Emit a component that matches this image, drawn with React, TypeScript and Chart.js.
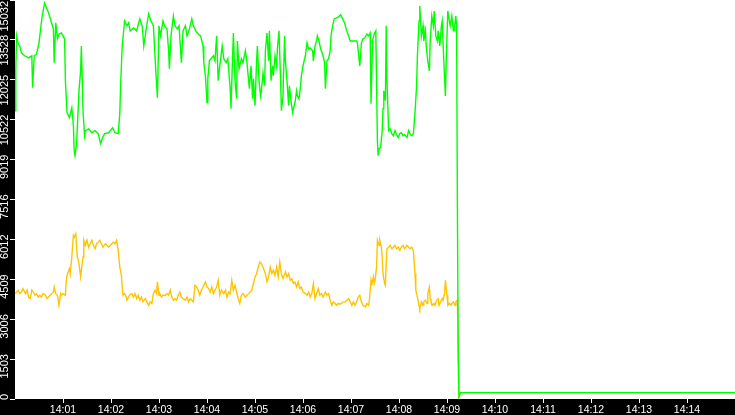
import { useEffect, useRef } from "react"
import { Chart, registerables, type ChartConfiguration } from "chart.js"

Chart.register(...registerables)

// seconds after 14:00:00 -> value
const greenSeries: [number, number][] = [
  [0, 10860], [1, 12360], [2, 13680], [4, 13380], [6, 13300], [8, 13040], [12, 12930], [17, 12850],
  [21, 12930], [22, 11730], [24, 12930], [27, 13000], [30, 13420], [32, 13940], [34, 14430], [37, 14920],
  [40, 14690], [42, 14540], [45, 14240], [48, 13940], [49, 12670], [51, 14170], [53, 13570], [55, 13750],
  [58, 13790], [62, 13570], [63, 11990], [65, 10790], [68, 10600], [71, 10970], [73, 10300], [74, 9360],
  [75, 9170], [77, 9620], [80, 11610], [82, 12360], [83, 13300], [85, 10860], [87, 9920], [88, 10110],
  [92, 10180], [96, 10030], [100, 10110], [104, 10000], [107, 9620], [109, 9810], [112, 10000], [117, 10030],
  [122, 10220], [125, 10030], [129, 10000], [131, 10750], [132, 11800], [134, 13300], [137, 14240], [140, 14060],
  [142, 14170], [144, 13870], [148, 13980], [152, 13870], [156, 14320], [159, 14060], [161, 13300], [164, 13940],
  [167, 14510], [170, 14240], [173, 14060], [176, 12360], [178, 11350], [180, 14060], [182, 13680], [185, 14240],
  [187, 14060], [190, 13940], [192, 13120], [193, 12440], [195, 13680], [198, 14430], [200, 14060], [203, 13940],
  [205, 14060], [208, 12670], [210, 13870], [213, 14060], [215, 13680], [218, 13940], [221, 14320], [223, 14060],
  [226, 13870], [229, 13750], [232, 13680], [235, 13300], [236, 12670], [238, 12180], [240, 11160], [241, 12060],
  [243, 12740], [245, 12820], [248, 12930], [250, 12740], [252, 13680], [254, 11990], [256, 12550], [259, 13300],
  [261, 12820], [264, 12670], [266, 12820], [269, 11690], [270, 10940], [272, 12930], [273, 13790], [275, 11990],
  [277, 11310], [278, 13490], [280, 12440], [283, 12820], [285, 12670], [288, 13120], [290, 12670], [292, 11990],
  [293, 11690], [295, 12550], [297, 11310], [298, 12060], [300, 11050], [302, 12740], [303, 13300], [305, 11990],
  [307, 11420], [308, 11610], [310, 12290], [312, 11800], [313, 13120], [315, 13790], [317, 12740], [318, 13870],
  [320, 11990], [322, 12550], [323, 12180], [325, 12930], [327, 12550], [328, 13190], [330, 13870], [332, 11990],
  [333, 10860], [335, 11420], [337, 13680], [338, 12740], [340, 11990], [342, 11050], [343, 11800], [345, 11240],
  [347, 10790], [348, 10940], [350, 11160], [352, 11610], [353, 11420], [355, 11310], [357, 11800], [358, 12180],
  [360, 12550], [362, 12820], [363, 12930], [365, 13420], [367, 13190], [369, 13230], [372, 13120], [373, 12740],
  [375, 13300], [377, 13490], [378, 13680], [380, 13490], [382, 13190], [383, 13120], [385, 12930], [387, 12670],
  [388, 11690], [390, 12740], [392, 12820], [394, 13120], [395, 13680], [397, 14060], [399, 14320], [402, 14360],
  [404, 14390], [407, 14470], [409, 14360], [412, 14170], [414, 13940], [417, 13680], [419, 13490], [422, 13490],
  [424, 13490], [427, 13490], [428, 13420], [430, 12820], [431, 12550], [433, 13420], [435, 13570], [437, 13600],
  [440, 13750], [442, 13680], [444, 13790], [445, 11120], [447, 13490], [449, 13750], [451, 13870], [453, 9730],
  [454, 9170], [455, 9430], [457, 9470], [459, 10110], [460, 10940], [461, 11610], [463, 11240], [464, 14060],
  [465, 11990], [467, 10110], [469, 10180], [471, 10000], [473, 9920], [475, 10110], [477, 9960], [479, 9850],
  [481, 10000], [483, 10030], [485, 9920], [487, 9960], [490, 9850], [492, 10110], [494, 9960], [496, 9920],
  [498, 10000], [500, 10790], [502, 11800], [503, 12930], [505, 14240], [506, 14810], [507, 14240], [508, 13680],
  [510, 14060], [511, 13490], [513, 13870], [514, 13300], [516, 12740], [518, 12360], [519, 13490], [521, 14430],
  [523, 14060], [524, 14620], [526, 13680], [528, 13490], [529, 13870], [531, 13300], [533, 14060], [534, 14240],
  [536, 12740], [538, 11420], [539, 12740], [541, 14620], [543, 14240], [544, 14060], [546, 14430], [548, 13870],
  [549, 13870], [551, 14430], [552, 14060], [553, 7220], [554, 1770], [555, 90], [557, 240], [900, 240],
]

const yellowSeries: [number, number][] = [
  [0, 3970], [2, 4030], [4, 4100], [6, 3970], [8, 4030], [10, 4160], [13, 3970], [15, 4100],
  [17, 3840], [19, 3780], [21, 4100], [23, 4030], [25, 3910], [27, 3970], [29, 3840], [31, 3910],
  [33, 3840], [35, 3970], [38, 3910], [40, 3780], [42, 3840], [44, 3910], [46, 3970], [48, 4030],
  [49, 4220], [51, 3970], [53, 3910], [55, 3530], [57, 3970], [58, 3910], [60, 3970], [63, 3910],
  [64, 4410], [65, 4660], [68, 4910], [69, 4720], [71, 5350], [73, 6160], [74, 6100], [76, 6230],
  [77, 5720], [78, 5350], [80, 5100], [82, 4600], [83, 4850], [85, 5350], [86, 5980], [88, 5790],
  [90, 5980], [92, 5720], [94, 5850], [96, 5980], [98, 5790], [100, 5660], [102, 5850], [104, 5910],
  [106, 5980], [108, 5850], [110, 5720], [113, 5850], [115, 5790], [117, 5720], [119, 5790], [121, 5850],
  [123, 5910], [125, 5850], [127, 5980], [129, 5600], [131, 4970], [133, 4660], [134, 4220], [135, 3910],
  [137, 3970], [139, 3840], [140, 3720], [143, 3910], [146, 3970], [148, 3840], [150, 3970], [152, 3780],
  [154, 3910], [156, 3720], [158, 3840], [160, 3660], [163, 3780], [165, 3660], [167, 3530], [169, 3660],
  [171, 3600], [173, 3970], [175, 4100], [177, 3970], [178, 4410], [180, 3910], [181, 3970], [183, 3840],
  [185, 3910], [188, 3910], [190, 3970], [192, 3910], [194, 4100], [196, 3840], [198, 3720], [200, 3780],
  [202, 3720], [204, 3910], [206, 4030], [208, 3840], [210, 3780], [213, 3720], [215, 3840], [217, 3660],
  [219, 3780], [221, 3720], [223, 3660], [225, 4280], [227, 4220], [229, 4100], [231, 3910], [233, 4100],
  [235, 4220], [238, 4410], [240, 4220], [242, 4160], [244, 4030], [246, 4220], [248, 3970], [250, 4100],
  [252, 4220], [254, 4470], [256, 3910], [258, 4100], [261, 3970], [263, 4100], [265, 3840], [267, 4030],
  [269, 3970], [271, 4470], [273, 4100], [275, 4280], [277, 4030], [279, 3780], [281, 3600], [283, 3910],
  [285, 3970], [288, 3840], [290, 3910], [292, 3970], [294, 4030], [296, 4100], [298, 4350], [300, 4600],
  [302, 4720], [304, 4970], [306, 5160], [308, 5100], [310, 4970], [313, 4720], [315, 4410], [317, 4600],
  [319, 4970], [321, 4720], [323, 4850], [325, 4660], [327, 4970], [329, 4600], [331, 5160], [333, 4720],
  [335, 4530], [338, 4790], [340, 4600], [342, 4720], [344, 4470], [346, 4530], [348, 4350], [350, 4410],
  [352, 4220], [354, 4410], [356, 4160], [358, 4220], [360, 4030], [363, 3970], [365, 3910], [367, 4030],
  [369, 3840], [371, 3970], [373, 4350], [375, 3780], [377, 3970], [379, 4160], [381, 3910], [383, 3970],
  [385, 3840], [388, 4030], [390, 3910], [392, 3970], [394, 3720], [396, 3530], [398, 3660], [400, 3600],
  [402, 3530], [404, 3600], [406, 3570], [408, 3600], [410, 3660], [413, 3660], [415, 3720], [417, 3780],
  [419, 3660], [421, 3530], [423, 3660], [425, 3530], [427, 3660], [429, 3840], [431, 3910], [433, 3660],
  [435, 3530], [438, 3470], [440, 3600], [442, 3530], [443, 3720], [444, 4100], [445, 4470], [446, 4280],
  [448, 4600], [449, 4350], [450, 4470], [452, 4970], [453, 5980], [455, 5790], [456, 5980], [458, 5720],
  [459, 5350], [460, 4720], [462, 4350], [463, 4280], [464, 5100], [465, 5660], [467, 5720], [469, 5790],
  [471, 5660], [473, 5720], [475, 5790], [477, 5660], [479, 5720], [481, 5600], [483, 5720], [485, 5790],
  [487, 5660], [490, 5790], [492, 5720], [494, 5660], [496, 5720], [498, 5600], [500, 4720], [501, 4100],
  [503, 3840], [505, 3530], [506, 3410], [508, 3660], [510, 3530], [511, 3660], [513, 3720], [515, 3600],
  [516, 3970], [518, 4220], [519, 3780], [520, 3660], [522, 3530], [524, 3600], [525, 3530], [527, 3720],
  [529, 3780], [530, 3530], [532, 3660], [534, 3780], [535, 3720], [537, 3970], [538, 4470], [540, 3910],
  [541, 3530], [543, 3600], [545, 3530], [546, 3600], [548, 3660], [550, 3530], [551, 3660], [553, 3720],
  [555, 0],
]

const yTickLabels = ["0", "1503", "3006", "4509", "6012", "7516", "9019", "10522", "12025", "13528", "15032"]
const xTickLabels = [
  "14:01", "14:02", "14:03", "14:04", "14:05", "14:06", "14:07",
  "14:08", "14:09", "14:10", "14:11", "14:12", "14:13", "14:14",
]
const spanSeconds = 900

const xFont = { family: "'Liberation Sans', Arial, sans-serif", size: 10.5 }
const yFont = { family: "'Liberation Sans', Arial, sans-serif", size: 11 }

// white plot area on the black canvas, and keep the top y label inside the canvas
const plotBackground = {
  id: "plotBackground",
  beforeDraw(chart: Chart) {
    const { ctx, chartArea } = chart
    ctx.save()
    ctx.fillStyle = "#ffffff"
    ctx.fillRect(chartArea.left, chartArea.top, chartArea.right - chartArea.left, chartArea.bottom - chartArea.top)
    ctx.restore()

    const items = (chart.scales.y as any).getLabelItems()
    for (const item of items) {
      const t = item.options.translation
      if (t[1] < 1) t[1] = 1
    }
  },
}

export default function App() {
  const canvasRef = useRef<HTMLCanvasElement>(null)

  useEffect(() => {
    if (!canvasRef.current) return

    const config: ChartConfiguration<"line"> = {
      type: "line",
      data: {
        datasets: [
          {
            label: "green",
            data: greenSeries.map(([x, y]) => ({ x, y })),
            borderColor: "#00ff00",
            borderWidth: 1.4,
            pointRadius: 0,
            tension: 0,
          },
          {
            label: "yellow",
            data: yellowSeries.map(([x, y]) => ({ x, y })),
            borderColor: "#ffc400",
            borderWidth: 1.4,
            pointRadius: 0,
            tension: 0,
          },
        ],
      },
      options: {
        animation: false,
        responsive: false,
        devicePixelRatio: 1,
        layout: { padding: 0 },
        plugins: {
          legend: { display: false },
          tooltip: { enabled: false },
        },
        scales: {
          x: {
            type: "linear",
            min: 0,
            max: spanSeconds,
            afterBuildTicks: (scale) => {
              scale.ticks = xTickLabels.map((_, i) => ({ value: (i + 1) * 60 }))
            },
            afterFit: (scale) => {
              scale.height = 16
              scale.paddingLeft = 0
              scale.paddingRight = 0
            },
            ticks: {
              color: "#ffffff",
              font: xFont,
              padding: 1,
              autoSkip: false,
              maxRotation: 0,
              minRotation: 0,
              callback: (_v, index) => xTickLabels[index],
            },
            grid: { drawOnChartArea: false, drawTicks: true, tickLength: 4, color: "#ffffff" },
            border: { display: false },
          },
          y: {
            type: "linear",
            min: 0,
            max: Number(yTickLabels[yTickLabels.length - 1]),
            afterBuildTicks: (scale) => {
              scale.ticks = yTickLabels.map((t) => ({ value: Number(t) }))
            },
            afterFit: (scale) => {
              scale.width = 15
              scale.paddingTop = 0
              scale.paddingBottom = 0
            },
            ticks: {
              color: "#ffffff",
              font: yFont,
              padding: 5,
              autoSkip: false,
              minRotation: 90,
              maxRotation: 90,
              labelOffset: -5,
              callback: (_v, index) => yTickLabels[index],
            },
            grid: { drawOnChartArea: false, drawTicks: true, tickLength: 5, color: "#ffffff" },
            border: { display: false },
          },
        },
      },
      plugins: [plotBackground],
    }

    const chart = new Chart(canvasRef.current, config)
    return () => chart.destroy()
  }, [])

  return (
    <div style={{ position: "fixed", left: 0, top: 0, width: 735, height: 415, background: "#000" }}>
      <canvas ref={canvasRef} width={735} height={415} style={{ display: "block", width: 735, height: 415 }} />
    </div>
  )
}
